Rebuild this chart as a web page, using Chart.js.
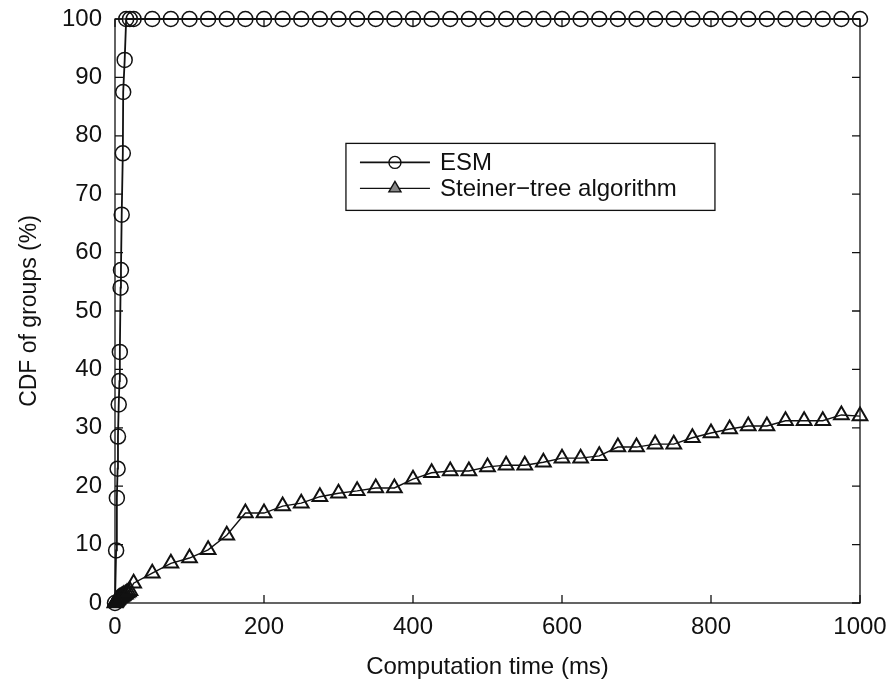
<!DOCTYPE html>
<html>
<head>
<meta charset="utf-8">
<script src="https://cdn.jsdelivr.net/npm/chart.js@4.4.1/dist/chart.umd.min.js"></script>
<style>
  html, body { margin: 0; padding: 0; background: #fff; }
  #wrap { width: 893px; height: 687px; }
</style>
</head>
<body>
<div id="wrap"><canvas id="cdfChart" width="893" height="687"></canvas></div>
<script>
// ค่าที่อ่านจากภาพ (เวลา ms, CDF %)
const xTicks = [0, 200, 400, 600, 800, 1000];
const yTicks = [0, 10, 20, 30, 40, 50, 60, 70, 80, 90, 100];

const esmTime = [0, 1.5, 2.5, 3.5, 4, 5, 6, 6.5, 7.5, 8, 9, 10.5, 11, 13, 15, 20,
  25, 50, 75, 100, 125, 150, 175, 200, 225, 250, 275, 300, 325, 350, 375, 400,
  425, 450, 475, 500, 525, 550, 575, 600, 625, 650, 675, 700, 725, 750, 775, 800,
  825, 850, 875, 900, 925, 950, 975, 1000];
const esmCdf = [0, 9, 18, 23, 28.5, 34, 38, 43, 54, 57, 66.5, 77, 87.5, 93, 100, 100,
  100, 100, 100, 100, 100, 100, 100, 100, 100, 100, 100, 100, 100, 100, 100, 100,
  100, 100, 100, 100, 100, 100, 100, 100, 100, 100, 100, 100, 100, 100, 100, 100,
  100, 100, 100, 100, 100, 100, 100, 100];

const steinerTime = [0, 0.5, 1, 1.5, 2, 2.5, 3, 3.5, 4, 5, 6, 7, 8, 9, 10, 11, 12, 14, 16, 18, 20,
  25, 50, 75, 100, 125, 150, 175, 200, 225, 250, 275, 300, 325, 350, 375, 400,
  425, 450, 475, 500, 525, 550, 575, 600, 625, 650, 675, 700, 725, 750, 775, 800,
  825, 850, 875, 900, 925, 950, 975, 1000];
const steinerCdf = [0, 0.1, 0.2, 0.3, 0.4, 0.5, 0.5, 0.6, 0.7, 0.8, 0.9, 1.0, 1.0, 1.1, 1.2, 1.3, 1.4, 1.5, 1.7, 1.9, 2.1,
  3.4, 5.1, 6.8, 7.7, 9.1, 11.6, 15.4, 15.4, 16.6, 17.1, 18.2, 18.8, 19.2, 19.7, 19.7, 21.2,
  22.3, 22.6, 22.6, 23.3, 23.6, 23.6, 24.1, 24.8, 24.8, 25.2, 26.7, 26.7, 27.2, 27.2, 28.3, 29.1,
  29.8, 30.3, 30.3, 31.2, 31.2, 31.2, 32.2, 32.0];

const seriesNames = ['ESM', 'Steiner\u2212tree algorithm'];

const FONT = "'Liberation Sans', Arial, sans-serif";
const INK = '#111';

function toPoints(xs, ys) {
    return xs.map((x, i) => ({ x: x, y: ys[i] }));
}

// กรอบ + ขีดแกนชี้เข้าด้านใน แบบ MATLAB
const boxTicksPlugin = {
    id: 'boxTicks',
    beforeDatasetsDraw(chart) {
        const { ctx, chartArea: a, scales } = chart;
        const len = 8;
        ctx.save();
        ctx.strokeStyle = INK;
        ctx.lineWidth = 1.3;
        ctx.strokeRect(a.left, a.top, a.right - a.left, a.bottom - a.top);
        ctx.beginPath();
        xTicks.forEach(v => {
            const px = scales.x.getPixelForValue(v);
            ctx.moveTo(px, a.bottom); ctx.lineTo(px, a.bottom - len);
            ctx.moveTo(px, a.top); ctx.lineTo(px, a.top + len);
        });
        yTicks.forEach(v => {
            const py = scales.y.getPixelForValue(v);
            ctx.moveTo(a.left, py); ctx.lineTo(a.left + len, py);
            ctx.moveTo(a.right, py); ctx.lineTo(a.right - len, py);
        });
        ctx.stroke();
        ctx.restore();
    }
};

// legend ในพื้นที่กราฟ
const boxLegendPlugin = {
    id: 'boxLegend',
    afterDraw(chart) {
        const { ctx, chartArea: a } = chart;
        const w = a.right - a.left;
        const h = a.bottom - a.top;
        const bx = a.left + w * 0.31;
        const by = a.top + h * 0.213;
        const bw = 369, bh = 67;
        ctx.save();
        ctx.fillStyle = '#fff';
        ctx.fillRect(bx, by, bw, bh);
        ctx.strokeStyle = INK;
        ctx.lineWidth = 1.3;
        ctx.strokeRect(bx, by, bw, bh);

        const rows = [by + 19, by + 45];
        chart.data.datasets.forEach((ds, i) => {
            const y = rows[i];
            ctx.strokeStyle = INK;
            ctx.lineWidth = ds.borderWidth;
            ctx.beginPath();
            ctx.moveTo(bx + 14, y);
            ctx.lineTo(bx + 84, y);
            ctx.stroke();
            ctx.fillStyle = i === 0 ? 'rgba(0,0,0,0)' : '#888';
            ctx.lineWidth = 1.4;
            Chart.helpers.drawPoint(ctx, {
                pointStyle: ds.pointStyle,
                radius: i === 0 ? 6 : 7,
                borderWidth: 1.4
            }, bx + 49, y);
            ctx.fillStyle = INK;
            ctx.font = '24px ' + FONT;
            ctx.textBaseline = 'middle';
            ctx.fillText(seriesNames[i], bx + 94, y + 1);
        });
        ctx.restore();
    }
};

const ctx = document.getElementById('cdfChart').getContext('2d');

new Chart(ctx, {
    type: 'line',
    data: {
        datasets: [
            {
                label: seriesNames[0],
                data: toPoints(esmTime, esmCdf),
                borderColor: INK,
                borderWidth: 1.8,
                pointStyle: 'circle',
                pointRadius: 7.5,
                pointBorderWidth: 1.5,
                pointBorderColor: INK,
                pointBackgroundColor: 'rgba(0,0,0,0)',
                tension: 0,
                clip: false
            },
            {
                label: seriesNames[1],
                data: toPoints(steinerTime, steinerCdf),
                borderColor: INK,
                borderWidth: 1.4,
                pointStyle: 'triangle',
                pointRadius: 8.5,
                pointBorderWidth: 2,
                pointBorderColor: INK,
                pointBackgroundColor: 'rgba(0,0,0,0)',
                tension: 0,
                clip: false
            }
        ]
    },
    options: {
        responsive: false,
        animation: false,
        devicePixelRatio: 1,
        layout: {
            autoPadding: false,
            padding: { top: 19, right: 33, left: 0, bottom: 0 }
        },
        plugins: {
            legend: { display: false },
            tooltip: { enabled: false }
        },
        scales: {
            x: {
                type: 'linear',
                min: 0,
                max: 1000,
                afterFit: s => { s.height = 84; s.paddingLeft = 0; s.paddingRight = 0; },
                afterBuildTicks: s => { s.ticks = xTicks.map(v => ({ value: v })); },
                grid: { display: false, drawTicks: false },
                border: { display: false },
                ticks: {
                    font: { size: 24, family: FONT },
                    color: INK,
                    padding: 10,
                    maxRotation: 0,
                    callback: v => String(v)
                },
                title: {
                    display: true,
                    text: 'Computation time (ms)',
                    font: { size: 24, family: FONT },
                    color: INK,
                    padding: { top: 0, bottom: 5 }
                }
            },
            y: {
                type: 'linear',
                min: 0,
                max: 100,
                afterFit: s => { s.width = 115; s.paddingTop = 0; s.paddingBottom = 0; },
                afterBuildTicks: s => { s.ticks = yTicks.map(v => ({ value: v })); },
                grid: { display: false, drawTicks: false },
                border: { display: false },
                ticks: {
                    font: { size: 24, family: FONT },
                    color: INK,
                    padding: 13,
                    callback: v => String(v)
                },
                title: {
                    display: true,
                    text: 'CDF of groups (%)',
                    font: { size: 23, family: FONT },
                    color: INK,
                    padding: { top: 16, bottom: 0 }
                }
            }
        }
    },
    plugins: [boxTicksPlugin, boxLegendPlugin]
});
</script>
</body>
</html>
